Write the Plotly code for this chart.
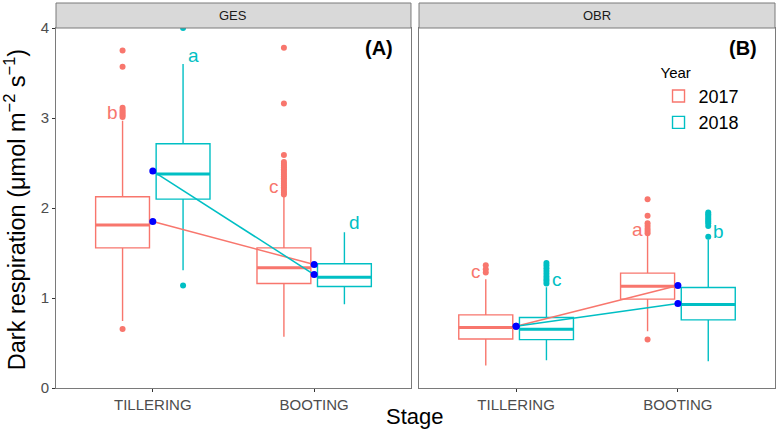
import plotly.graph_objects as go

stages = ["TILLERING", "BOOTING"]
years = ["2017", "2018"]
colors = {"2017": "#F8766D", "2018": "#00BFC4"}

# GES panel (A)
ges_q1 = {"2017": [1.557, 1.161], "2018": [2.099, 1.128]}
ges_med = {"2017": [1.81, 1.335], "2018": [2.377, 1.231]}
ges_q3 = {"2017": [2.125, 1.557], "2018": [2.714, 1.38]}
ges_lo = {"2017": [0.745, 0.57], "2018": [1.309, 0.931]}
ges_hi = {"2017": [2.97, 2.14], "2018": [3.60, 1.73]}
ges_out = {
    "2017": [[3.75, 3.57, 3.115, 3.09, 3.07, 3.05, 3.03, 3.01, 0.655],
             [3.78, 3.16, 2.59, 2.51, 2.49, 2.47, 2.45, 2.43, 2.41, 2.39, 2.37,
              2.35, 2.33, 2.31, 2.29, 2.27, 2.25, 2.23, 2.21, 2.19, 2.17, 2.15]],
    "2018": [[4.0, 1.139], []],
}
ges_mean = {"2017": [1.85, 1.372], "2018": [2.41, 1.261]}
ges_letters = {"2017": ["b", "c"], "2018": ["a", "d"]}
ges_letter_y = {"2017": [3.06, 2.24], "2018": [3.69, 1.84]}

# OBR panel (B)
obr_q1 = {"2017": [0.545, 0.987], "2018": [0.538, 0.757]}
obr_med = {"2017": [0.672, 1.131], "2018": [0.653, 0.928]}
obr_q3 = {"2017": [0.812, 1.276], "2018": [0.783, 1.117]}
obr_lo = {"2017": [0.249, 0.63], "2018": [0.308, 0.297]}
obr_hi = {"2017": [1.209, 1.70], "2018": [1.12, 1.65]}
obr_out = {
    "2017": [[1.365, 1.32, 1.284],
             [2.098, 1.913, 1.83, 1.80, 1.77, 1.745, 1.72, 0.538]],
    "2018": [[1.39, 1.36, 1.33, 1.30, 1.27, 1.24, 1.21, 1.19, 1.16],
             [1.95, 1.93, 1.91, 1.89, 1.87, 1.85, 1.83, 1.80, 1.68]],
}
obr_mean = {"2017": [0.686, 1.139], "2018": [0.686, 0.939]}
obr_letters = {"2017": ["c", "a"], "2018": ["c", "b"]}
obr_letter_y = {"2017": [1.30, 1.76], "2018": [1.21, 1.74]}

panels = [
    ("GES", "(A)", "x", "y", ges_q1, ges_med, ges_q3, ges_lo, ges_hi, ges_out, ges_mean, ges_letters, ges_letter_y),
    ("OBR", "(B)", "x2", "y2", obr_q1, obr_med, obr_q3, obr_lo, obr_hi, obr_out, obr_mean, obr_letters, obr_letter_y),
]

fig = go.Figure()
annotations = []
for pi, (name, tag, xa, ya, q1, med, q3, lo, hi, out, mean, letters, letter_y) in enumerate(panels):
    for yr in years:
        fig.add_trace(go.Box(
            x=stages, q1=q1[yr], median=med[yr], q3=q3[yr],
            lowerfence=lo[yr], upperfence=hi[yr], y=out[yr],
            boxpoints="outliers", name=yr, legendgroup=yr,
            showlegend=(pi == 0), offsetgroup=yr,
            line=dict(color=colors[yr], width=1.4), fillcolor="rgba(255,255,255,0)",
            marker=dict(color=colors[yr], size=6, line=dict(width=0)),
            whiskerwidth=0, xaxis=xa, yaxis=ya, hoverinfo="skip",
        ))
        # thicker median line (same offset group, degenerate box at the median)
        fig.add_trace(go.Box(
            x=stages, q1=med[yr], median=med[yr], q3=med[yr],
            lowerfence=med[yr], upperfence=med[yr],
            boxpoints=False, name=yr, legendgroup=yr, showlegend=False, offsetgroup=yr,
            line=dict(color=colors[yr], width=3), fillcolor="rgba(255,255,255,0)",
            whiskerwidth=0, xaxis=xa, yaxis=ya, hoverinfo="skip",
        ))
    for yr in years:
        fig.add_trace(go.Scatter(
            x=stages, y=mean[yr], mode="lines", line=dict(color=colors[yr], width=1.5),
            showlegend=False, xaxis=xa, yaxis=ya, hoverinfo="skip",
        ))
    for yr in years:
        fig.add_trace(go.Scatter(
            x=stages, y=mean[yr], mode="markers", marker=dict(color="#0000FF", size=7),
            showlegend=False, xaxis=xa, yaxis=ya, hoverinfo="skip",
        ))
    xref = "x" if xa == "x" else "x2"
    yref = "y" if ya == "y" else "y2"
    for yr, sgn in (("2017", -1), ("2018", 1)):
        for i in range(len(stages)):
            annotations.append(dict(
                x=i + sgn * 0.25, y=letter_y[yr][i], xref=xref, yref=yref,
                text=letters[yr][i], showarrow=False,
                font=dict(size=19, color=colors[yr]), xanchor="center", yanchor="middle",
            ))

dA = [0.0, 0.4937]
dB = [0.5049, 1.0]
strip_h = 25 / 360
shapes = []
for d, label, tag in ((dA, "GES", "(A)"), (dB, "OBR", "(B)")):
    shapes.append(dict(type="rect", xref="paper", yref="paper", x0=d[0], x1=d[1], y0=1, y1=1 + strip_h,
                       fillcolor="#D9D9D9", line=dict(color="#7a7a7a", width=1)))
    annotations.append(dict(x=(d[0] + d[1]) / 2, y=1 + strip_h / 2, xref="paper", yref="paper",
                            text=label, showarrow=False, font=dict(size=13, color="#1A1A1A"),
                            xanchor="center", yanchor="middle"))
    annotations.append(dict(x=d[1] - 0.022, y=0.945, xref="paper", yref="paper",
                            text="<b>" + tag + "</b>", showarrow=False, font=dict(size=20, color="black"),
                            xanchor="right", yanchor="middle"))

annotations.append(dict(x=0.4993, y=-0.08, xref="paper", yref="paper", text="Stage", showarrow=False,
                        font=dict(size=22, color="black"), xanchor="center", yanchor="middle"))
annotations.append(dict(x=-0.056, y=0.496, xref="paper", yref="paper",
                        text="Dark respiration (μmol m<sup>−2</sup> s<sup>−1</sup>)", showarrow=False,
                        textangle=-90, font=dict(size=23.5, color="black"), xanchor="center", yanchor="middle"))

axis_common = dict(showgrid=False, zeroline=False, showline=True, mirror=True, linecolor="#7a7a7a",
                   linewidth=1, ticks="outside", ticklen=3, tickcolor="#333333",
                   tickfont=dict(size=15, color="#4D4D4D"))

fig.update_layout(
    width=777, height=438,
    margin=dict(l=56, r=2, t=28, b=50),
    paper_bgcolor="white", plot_bgcolor="white",
    font=dict(family="Liberation Sans, Arial, sans-serif"),
    boxmode="group", boxgap=0.25, boxgroupgap=0.11,
    hovermode=False,
    xaxis=dict(domain=dA, range=[-0.6, 1.6], type="category", **axis_common),
    xaxis2=dict(domain=dB, range=[-0.6, 1.6], type="category", **axis_common),
    yaxis=dict(range=[0, 4], tickvals=[0, 1, 2, 3, 4], anchor="x", **axis_common),
    yaxis2=dict(range=[0, 4], tickvals=[0, 1, 2, 3, 4], anchor="x2", showticklabels=False,
                **{k: v for k, v in axis_common.items() if k not in ("ticks",)}, ticks=""),
    legend=dict(title=dict(text="Year", font=dict(size=15, color="black")),
                font=dict(size=18, color="black"), x=0.838, y=0.916, xanchor="left", yanchor="top",
                bgcolor="rgba(0,0,0,0)", tracegroupgap=0),
    shapes=shapes, annotations=annotations,
)

# remove the default 8px page margin so the figure fills the window exactly
fig.write_html("out.html", config={"displayModeBar": False},
               post_script="document.body.style.margin='0';document.body.style.overflow='hidden';")
